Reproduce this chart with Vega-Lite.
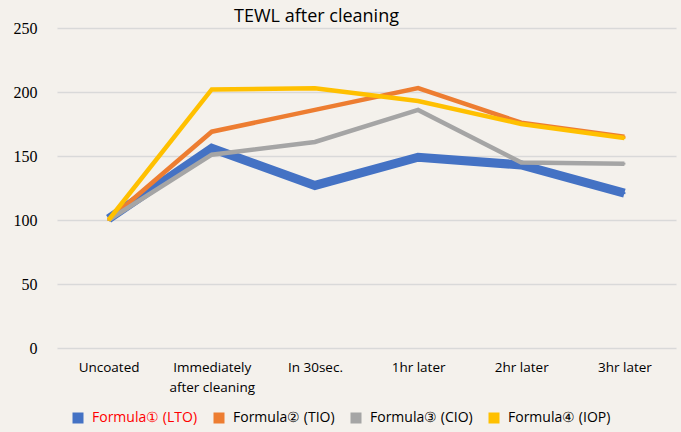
{
  "$schema": "https://vega.github.io/schema/vega-lite/v6.json",
  "autosize": {"type": "none"},
  "width": 619,
  "height": 320,
  "padding": {"left": 57, "top": 28, "right": 5, "bottom": 84},
  "background": "#f4f1ec",
  "config": {"view": {"stroke": null}},
  "title": {"text": "TEWL after cleaning", "font": "Open Sans", "fontSize": 18, "fontWeight": "normal", "color": "#000000", "anchor": "middle", "dx": -50, "offset": -6},
  "data": {"values": [
    {"time": "Uncoated", "series": "Formula① (LTO)", "value": 101},
    {"time": "Immediately after cleaning", "series": "Formula① (LTO)", "value": 156},
    {"time": "In 30sec.", "series": "Formula① (LTO)", "value": 127},
    {"time": "1hr later", "series": "Formula① (LTO)", "value": 149},
    {"time": "2hr later", "series": "Formula① (LTO)", "value": 143},
    {"time": "3hr later", "series": "Formula① (LTO)", "value": 121},
    {"time": "Uncoated", "series": "Formula② (TIO)", "value": 100},
    {"time": "Immediately after cleaning", "series": "Formula② (TIO)", "value": 169},
    {"time": "In 30sec.", "series": "Formula② (TIO)", "value": 186},
    {"time": "1hr later", "series": "Formula② (TIO)", "value": 203},
    {"time": "2hr later", "series": "Formula② (TIO)", "value": 176},
    {"time": "3hr later", "series": "Formula② (TIO)", "value": 165},
    {"time": "Uncoated", "series": "Formula③ (CIO)", "value": 100},
    {"time": "Immediately after cleaning", "series": "Formula③ (CIO)", "value": 151},
    {"time": "In 30sec.", "series": "Formula③ (CIO)", "value": 161},
    {"time": "1hr later", "series": "Formula③ (CIO)", "value": 186},
    {"time": "2hr later", "series": "Formula③ (CIO)", "value": 145},
    {"time": "3hr later", "series": "Formula③ (CIO)", "value": 144},
    {"time": "Uncoated", "series": "Formula④ (IOP)", "value": 100},
    {"time": "Immediately after cleaning", "series": "Formula④ (IOP)", "value": 202},
    {"time": "In 30sec.", "series": "Formula④ (IOP)", "value": 203},
    {"time": "1hr later", "series": "Formula④ (IOP)", "value": 193},
    {"time": "2hr later", "series": "Formula④ (IOP)", "value": 175},
    {"time": "3hr later", "series": "Formula④ (IOP)", "value": 164}
  ]},
  "encoding": {
    "x": {
      "field": "time", "type": "nominal",
      "sort": ["Uncoated", "Immediately after cleaning", "In 30sec.", "1hr later", "2hr later", "3hr later"],
      "scale": {"type": "point", "padding": 0.5},
      "axis": {
        "title": null, "labelAngle": 0, "domain": false, "ticks": false,
        "labelFont": "Open Sans", "labelFontSize": 13.5, "labelColor": "#000000",
        "labelPadding": 12, "labelLineHeight": 20,
        "labelExpr": "datum.label == 'Immediately after cleaning' ? ['Immediately', 'after cleaning'] : datum.label"
      }
    },
    "y": {
      "field": "value", "type": "quantitative",
      "scale": {"domain": [0, 250], "nice": false},
      "axis": {
        "title": null, "values": [0, 50, 100, 150, 200, 250],
        "domain": false, "ticks": false, "grid": true, "gridColor": "#d9d9d9", "gridWidth": 1.5,
        "labelFont": "Liberation Serif", "labelFontSize": 16, "labelColor": "#000000", "labelPadding": 20
      }
    }
  },
  "resolve": {"legend": {"color": "independent"}},
  "layer": [
    {
      "mark": {"type": "square", "size": 4, "filled": true, "opacity": 1},
      "encoding": {
        "color": {
          "field": "series", "type": "nominal",
          "scale": {"range": ["#4472c4", "#ed7d31", "#a5a5a5", "#ffc000"]},
          "legend": {
            "title": null, "orient": "none", "direction": "horizontal", "legendX": 14, "legendY": 383,
            "symbolType": "square", "symbolSize": 121, "symbolStrokeWidth": 0, "symbolOpacity": 1,
            "labelFont": "Open Sans", "labelFontSize": 14, "labelColor": "#000000", "labelOffset": 7, "columnPadding": 14,
            "encode": {
              "labels": {"update": {"fill": {"signal": "datum.label == 'Formula① (LTO)' ? '#ff0000' : '#000000'"}}}
            }
          }
        }
      }
    },
    {
      "mark": {"type": "line", "strokeJoin": "miter", "strokeCap": "butt"},
      "encoding": {
        "color": {"field": "series", "type": "nominal", "legend": null},
        "strokeWidth": {
          "condition": {"test": "datum.series == 'Formula① (LTO)'", "value": 9},
          "value": 4.5
        }
      }
    }
  ]
}
